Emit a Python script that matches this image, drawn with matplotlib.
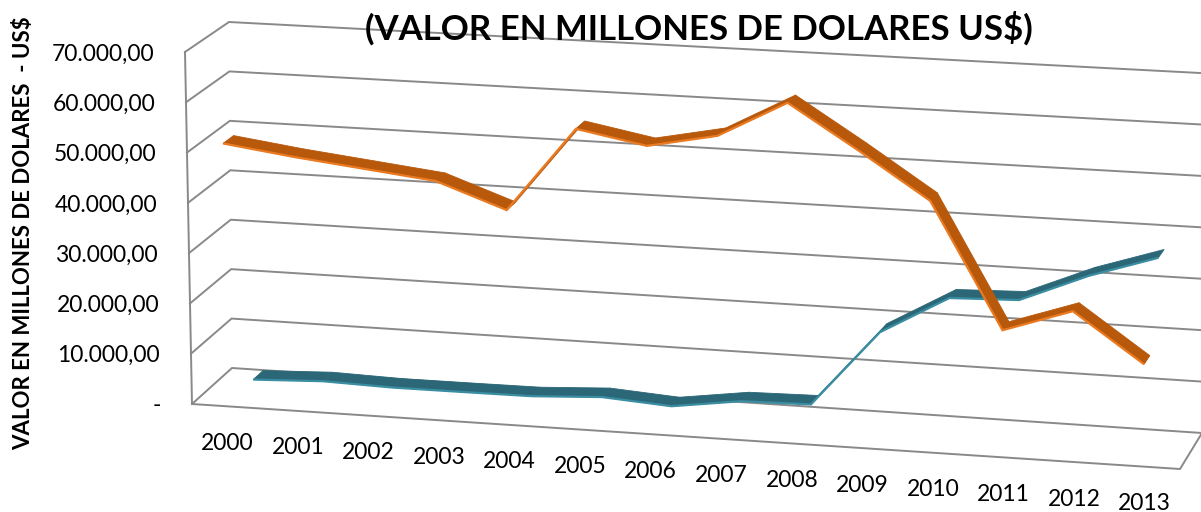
import numpy as np
import matplotlib
matplotlib.use("Agg")
import matplotlib.pyplot as plt
from matplotlib.patches import Polygon

# ---------------- data ----------------
years = [2000, 2001, 2002, 2003, 2004, 2005, 2006, 2007, 2008, 2009, 2010, 2011, 2012, 2013]
serie_naranja = [52080, 50190, 48610, 47030, 42090, 58820, 56240, 58960, 66140,
                 57550, 48610, 24410, 28910, 19530]
serie_azul = [600, 1200, 860, 900, 980, 1730, 830, 2730, 3000,
              18050, 25590, 26030, 31560, 35870]
y_ticks = [0, 10000, 20000, 30000, 40000, 50000, 60000, 70000]
title = "(VALOR EN MILLONES DE DOLARES US$)"
ylabel = "VALOR EN MILLONES DE DOLARES  - US$"

# ---------------- 3D-like projection (Excel perspective box) ----------------
VMAX = 70000.0
FLB, FLT = np.array([192., 404.]), np.array([185., 52.])
FRB, FRT = np.array([1180., 469.]), np.array([1176., 104.])
BLB, BLT = np.array([232., 368.]), np.array([229., 22.])
BRB, BRT = np.array([1202., 433.]), np.array([1200., 73.])


def proj(u, v, z):
    t = v / VMAX
    fb = FLB + (FRB - FLB) * u
    ft = FLT + (FRT - FLT) * u
    bb = BLB + (BRB - BLB) * u
    bt = BLT + (BRT - BLT) * u
    f = fb + (ft - fb) * t
    b = bb + (bt - bb) * t
    return f + (b - f) * z


n = len(years)
def ucat(i):
    return (i + 0.5) / n

fig = plt.figure(figsize=(12.01, 5.12), dpi=100)
ax = fig.add_axes([0, 0, 1, 1])
ax.set_xlim(0, 1201)
ax.set_ylim(512, 0)
ax.axis("off")

grid_c = "#898989"
glw = 1.4
for v in y_ticks:
    p0 = proj(0, v, 0); p1 = proj(0, v, 1); p2 = proj(1, v, 1)
    ax.plot([p0[0], p1[0], p2[0]], [p0[1], p1[1], p2[1]], color=grid_c, lw=glw,
            solid_joinstyle="miter", zorder=1)
# front-left vertical axis
a0 = proj(0, 0, 0); a1 = proj(0, VMAX, 0)
ax.plot([a0[0], a1[0]], [a0[1], a1[1]], color=grid_c, lw=glw, zorder=1)
# floor front and right edges
f1 = proj(1, 0, 0); f2 = proj(1, 0, 1)
ax.plot([a0[0], f1[0], f2[0]], [a0[1], f1[1], f2[1]], color=grid_c, lw=glw, zorder=1)

# ---------------- ribbons ----------------
def ribbon(vals, z0, z1, dark, light, zo):
    for i in range(len(vals) - 1):
        a = proj(ucat(i), vals[i], z0)
        b = proj(ucat(i + 1), vals[i + 1], z0)
        c = proj(ucat(i + 1), vals[i + 1], z1)
        d = proj(ucat(i), vals[i], z1)
        ax.add_patch(Polygon([a, b, c, d], closed=True, facecolor=dark,
                             edgecolor=dark, lw=0.6, zorder=zo))
    pts = np.array([proj(ucat(i), vals[i], z0) for i in range(len(vals))])
    ax.plot(pts[:, 0], pts[:, 1], color=light, lw=1.6, solid_joinstyle="miter",
            solid_capstyle="butt", zorder=zo + 0.5)

ribbon(serie_azul, 0.66, 0.91, "#2b6777", "#3b8ea2", 3)
ribbon(serie_naranja, 0.02, 0.27, "#b8580b", "#ea7b22", 5)

# ---------------- text ----------------
FONT = "Lato"
for v in y_ticks:
    p = proj(0, v, 0)
    if v == 0:
        s = "-"
    else:
        s = f"{v:,.2f}".replace(",", "X").replace(".", ",").replace("X", ".")
    ax.text(p[0] - 31, p[1] + 2, s, ha="right", va="center", fontsize=16.5,
            family=FONT, color="#000000")

for i, yr in enumerate(years):
    p = proj(ucat(i), 0, 0)
    ax.text(p[0], p[1] + 37, str(yr), ha="center", va="center", fontsize=16.5,
            family=FONT, color="#000000")

ax.text(699, 28, title, ha="center", va="center", fontsize=25, fontweight="bold",
        family=FONT, color="#000000")
ax.text(24, 233, ylabel, ha="center", va="center", rotation=90, fontsize=16,
        fontweight="bold", family=FONT, color="#000000")

fig.savefig("out.png", dpi=100)
